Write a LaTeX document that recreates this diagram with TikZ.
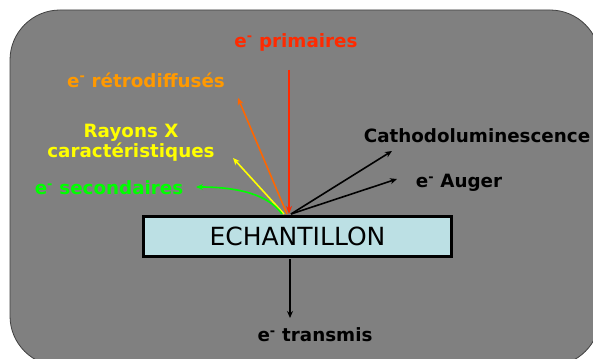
\documentclass[tikz,border=0pt]{standalone}
\usepackage{fontspec}
\setmainfont{DejaVu Sans}
\usetikzlibrary{arrows.meta}
\definecolor{bggray}{HTML}{808080}
\definecolor{boxblue}{HTML}{BCE0E4}
\definecolor{cred}{HTML}{FF2A00}
\definecolor{corange}{HTML}{FF9900}
\definecolor{corangearrow}{HTML}{FF6600}
\definecolor{cyellow}{HTML}{FFFF00}
\definecolor{cgreen}{HTML}{00FF00}
\newcommand{\elec}{e\textsuperscript{-}}
\begin{document}
\begin{tikzpicture}[x=1pt,y=-1pt,
  lbl/.style={inner sep=0pt, font=\bfseries\fontsize{18.3}{20}\selectfont},
  arr/.style={line width=1.6pt, -{Stealth[length=7pt,width=6pt]}}]
\useasboundingbox (0,0) rectangle (593,358);
\begin{scope}
  \clip (0,0) rectangle (593,358);
  \draw[fill=bggray, draw=black!75, line width=0.8pt, rounded corners=50pt] (10,10) rectangle (600,366);
\end{scope}
\node[draw=black, line width=3pt, fill=boxblue, minimum width=308pt, minimum height=40pt, inner sep=0pt,
  font=\fontsize{25}{27}\selectfont] (ech) at (297.5,236.5) {ECHANTILLON};
\coordinate (imp) at (289,214);
\coordinate (bot) at (290,259);
% labels
\node[lbl, text=cred] (prim) at (296,42) {\elec\ primaires};
\node[lbl, text=corange] (retro) at (146,80) {\elec\ rétrodiffusés};
\node[lbl, text=cyellow, align=center] (rx) at (131,143) {Rayons X\\caractéristiques};
\node[lbl, text=cgreen] (sec) at (109,188) {\elec\ secondaires};
\node[lbl, text=black] (cath) at (477,136) {Cathodoluminescence};
\node[lbl, text=black] (aug) at (459,183) {\elec\ Auger};
\node[lbl, text=black] (trans) at (315,335) {\elec\ transmis};
% arrow ends
\coordinate (ptop) at (289,70);
\coordinate (tretro) at (238,98);
\coordinate (trx) at (233,158);
\coordinate (tsec) at (196,187);
\coordinate (tcath) at (392,151);
\coordinate (taug) at (397,179);
\coordinate (ttrans) at (290,318);
% arrows
\draw[arr, draw=cred, line width=2pt, -{Stealth[length=8pt,width=6pt]}] (ptop) -- (imp);
\draw[arr, draw=corangearrow] ([xshift=-2pt]imp) -- (tretro);
\draw[arr, draw=cyellow] ([xshift=-5pt]imp) -- (trx);
\draw[arr, draw=cgreen] ([xshift=-7pt]imp) .. controls (272,200) and (250,187) .. (tsec);
\draw[arr, draw=black] ([xshift=2pt]imp) -- (tcath);
\draw[arr, draw=black] ([xshift=2pt]imp) -- (taug);
\draw[arr, draw=black] (bot) -- (ttrans);
\end{tikzpicture}
\end{document}
